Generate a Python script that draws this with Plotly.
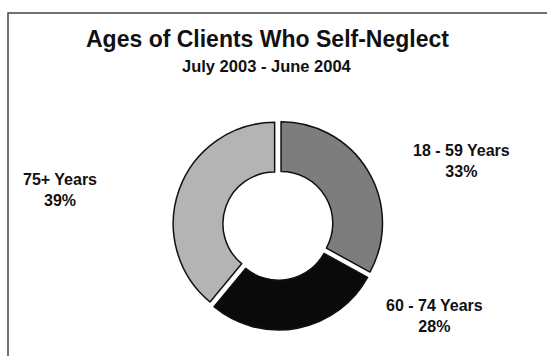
import plotly.graph_objects as go

# Age groups of self-neglect clients, July 2003 - June 2004
age_groups = ["18 - 59 Years", "60 - 74 Years", "75+ Years"]
shares = [33, 28, 39]
slice_colors = ["#7d7d7d", "#0a0a0a", "#b4b4b4"]

# label anchor points (paper coordinates) for each age group
label_x = [0.843, 0.794, 0.110]
label_y = [0.548, 0.111, 0.465]

W, H = 547, 356

fig = go.Figure()
fig.add_trace(go.Pie(
    labels=age_groups,
    values=shares,
    hole=0.51,
    sort=False,
    direction="clockwise",
    rotation=0,
    pull=[0.035, 0.035, 0.035],
    marker=dict(colors=slice_colors, line=dict(color="#111111", width=1.5)),
    textinfo="none",
    hoverinfo="label+percent",
    showlegend=False,
    domain=dict(x=[173 / W, 383 / W], y=[25 / H, 237 / H]),
))

font_family = "Liberation Sans, Arial, sans-serif"

for name, val, x, y in zip(age_groups, shares, label_x, label_y):
    fig.add_annotation(
        x=x, y=y, xref="paper", yref="paper",
        xanchor="center", yanchor="middle",
        text=f"<b>{name}<br>{val}%</b>",
        showarrow=False, align="center",
        font=dict(family=font_family, size=16, color="#111111"),
    )

fig.add_annotation(
    x=0.489, y=(H - 39) / H, xref="paper", yref="paper",
    xanchor="center", yanchor="middle",
    text="<b>Ages of Clients Who Self-Neglect</b>",
    showarrow=False,
    font=dict(family=font_family, size=23, color="#111111"),
)
fig.add_annotation(
    x=0.489, y=(H - 66) / H, xref="paper", yref="paper",
    xanchor="center", yanchor="middle",
    text="<b>July 2003 - June 2004</b>",
    showarrow=False,
    font=dict(family=font_family, size=16.5, color="#111111"),
)

# chart frame
fig.add_shape(
    type="rect", xref="paper", yref="paper",
    x0=8 / W, x1=1.02, y0=-0.02, y1=(H - 13) / H,
    line=dict(color="#444444", width=1.5),
)

fig.update_layout(
    width=W, height=H,
    margin=dict(l=0, r=0, t=0, b=0),
    paper_bgcolor="white",
    plot_bgcolor="white",
)

fig.write_html("out.html")
